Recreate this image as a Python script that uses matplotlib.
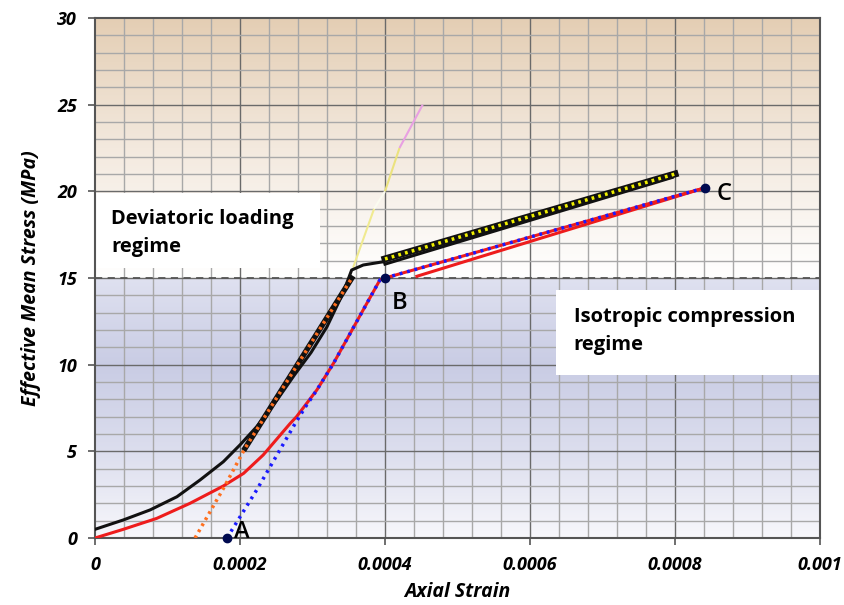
import matplotlib.pyplot as plt
import numpy as np
from matplotlib.colors import LinearSegmentedColormap

# --- data ---
black_x = [0.0, 0.000039, 0.000076, 0.000113, 0.000145, 0.000177, 0.000200, 0.000223, 0.000251,
           0.000275, 0.000298, 0.000320, 0.000342, 0.000354, 0.000370, 0.000398]
black_y = [0.5, 1.04, 1.62, 2.38, 3.35, 4.40, 5.37, 6.42, 7.96, 9.4, 10.7, 12.19, 14.12, 15.46, 15.75, 15.94]
black2_x = [0.000400, 0.000796]
black2_y = [15.8, 20.8]

yellow_x = [0.000400, 0.000800]
yellow_y = [16.1, 21.0]

orange_x = [0.000138, 0.000179, 0.000207, 0.000354]
orange_y = [0.0, 3.0, 5.18, 14.98]

red_x = [0.0, 0.000039, 0.000085, 0.000131, 0.000177, 0.000205, 0.000232, 0.000269, 0.000278,
         0.000306, 0.000329, 0.000352, 0.000375, 0.000393, 0.000400, 0.000841]
red_y = [0.0, 0.50, 1.13, 2.0, 3.0, 3.73, 4.79, 6.6, 7.0, 8.54, 10.08, 11.81, 13.54, 14.89, 15.0, 20.2]
red_unload_x = [0.000841, 0.000444]
red_unload_y = [20.2, 15.1]

blue_x = [0.000182, 0.000223, 0.000255, 0.000276, 0.000290, 0.000306, 0.000329, 0.000352, 0.000375,
          0.000393, 0.000400, 0.000841]
blue_y = [0.0, 2.77, 5.08, 6.6, 7.55, 8.54, 10.08, 11.81, 13.54, 14.89, 15.0, 20.2]

trend_x = [0.000356, 0.000385, 0.000400, 0.000420, 0.000452]
trend_y = [15.6, 19.0, 20.0, 22.5, 25.0]
trend_colors = ['#f0ea90', '#fbfbf0', '#ebe27e', '#e8a0e2']

points = {'A': (0.000182, 0.0), 'B': (0.000400, 15.0), 'C': (0.000841, 20.2)}

fig = plt.figure(figsize=(8.45, 6.05), dpi=100)
ax = fig.add_axes([95 / 845, 1 - 538 / 605, 725 / 845, 520 / 605])
ax.set_xlim(0, 0.001)
ax.set_ylim(0, 30)

# background gradients
top_cmap = LinearSegmentedColormap.from_list('top', ['#ffffff', '#f3e9de', '#e4ceb4'])
bot_cmap = LinearSegmentedColormap.from_list('bot', ['#f7f7fb', '#dcdeee', '#c9cce4', '#dfe1f0'])
grad = np.linspace(0, 1, 256).reshape(-1, 1)
ax.imshow(grad, cmap=top_cmap, extent=[0, 0.001, 15, 30], origin='lower', aspect='auto', zorder=0)
ax.imshow(grad, cmap=bot_cmap, extent=[0, 0.001, 0, 15], origin='lower', aspect='auto', zorder=0)

# grid
for gx in np.arange(0.00004, 0.001, 0.00004):
    major = abs(gx / 0.0002 - round(gx / 0.0002)) < 1e-6
    ax.axvline(gx, color='#6a6a6a' if major else '#a8a8a8', lw=1.0, zorder=1)
for gy in range(1, 30):
    ax.axhline(gy, color='#6a6a6a' if gy % 5 == 0 else '#a8a8a8', lw=1.0, zorder=1)

ax.axhline(15, color='#555555', lw=1.3, ls=(0, (4, 3)), zorder=2)

# text boxes
ax.fill_between([0, 0.00031], 15.6, 19.9, color='white', zorder=2.5, lw=0)
ax.text(0.000022, 19.0, 'Deviatoric loading\nregime', fontsize=14.5, fontweight='bold', family='Open Sans',
        va='top', ha='left', linespacing=1.55, zorder=3)
ax.fill_between([0.000636, 0.001], 9.4, 14.3, color='white', zorder=2.5, lw=0)
ax.text(0.000660, 13.3, 'Isotropic compression\nregime', fontsize=14.5, fontweight='bold', family='Open Sans',
        va='top', ha='left', linespacing=1.5, zorder=3)

# curves
for i in range(len(trend_colors)):
    ax.plot(trend_x[i:i + 2], trend_y[i:i + 2], color=trend_colors[i], lw=1.5, zorder=4,
            solid_capstyle='butt')

ax.plot(black_x, black_y, color='#111111', lw=2.2, zorder=5)
ax.plot(black2_x, black2_y, color='#111111', lw=2.2, zorder=5)
ax.plot(orange_x[2:], orange_y[2:], color='#111111', lw=4, zorder=5)
ax.plot(orange_x, orange_y, color='#ff7020', lw=2.5, ls=(0, (0.8, 1.2)), zorder=6)
ax.plot(yellow_x, yellow_y, color='#111111', lw=5, zorder=5)
ax.plot(yellow_x, yellow_y, color='#f0f000', lw=2.5, ls=(0, (0.8, 1.2)), zorder=6)

ax.plot(red_x, red_y, color='#ee1c1c', lw=2.2, zorder=5)
ax.plot(red_unload_x, red_unload_y, color='#ee1c1c', lw=2.2, zorder=5)
ax.plot(blue_x, blue_y, color='#1a1aff', lw=2.5, ls=(0, (0.8, 1.4)), zorder=6)

for name, (px, py) in points.items():
    ax.plot(px, py, 'o', color='#000a50', ms=6, zorder=7, clip_on=False)
ax.text(0.000192, 0.0, 'A', fontsize=17, family='Open Sans', fontweight='semibold', zorder=8)
ax.text(0.000410, 13.2, 'B', fontsize=17, family='Open Sans', fontweight='semibold', zorder=8)
ax.text(0.000858, 19.5, 'C', fontsize=17, family='Open Sans', fontweight='semibold', zorder=8)

# axes styling
for s in ax.spines.values():
    s.set_color('#555555')
    s.set_linewidth(1.5)
ax.set_xticks([0, 0.0002, 0.0004, 0.0006, 0.0008, 0.001])
ax.set_xticklabels(['0', '0.0002', '0.0004', '0.0006', '0.0008', '0.001'])
ax.set_yticks([0, 5, 10, 15, 20, 25, 30])
ax.tick_params(length=5, width=1.2, color='#555555', labelsize=13, pad=8)
for lab in ax.get_xticklabels() + ax.get_yticklabels():
    lab.set_fontweight('bold')
    lab.set_fontstyle('italic')
    lab.set_family('Open Sans')
ax.set_xlabel('Axial Strain', fontsize=14, fontweight='bold', fontstyle='italic', family='Open Sans', labelpad=6)
ax.set_ylabel('Effective Mean Stress (MPa)', fontsize=14, fontweight='bold', fontstyle='italic', family='Open Sans',
              labelpad=12)

fig.savefig('out.png', dpi=100)
